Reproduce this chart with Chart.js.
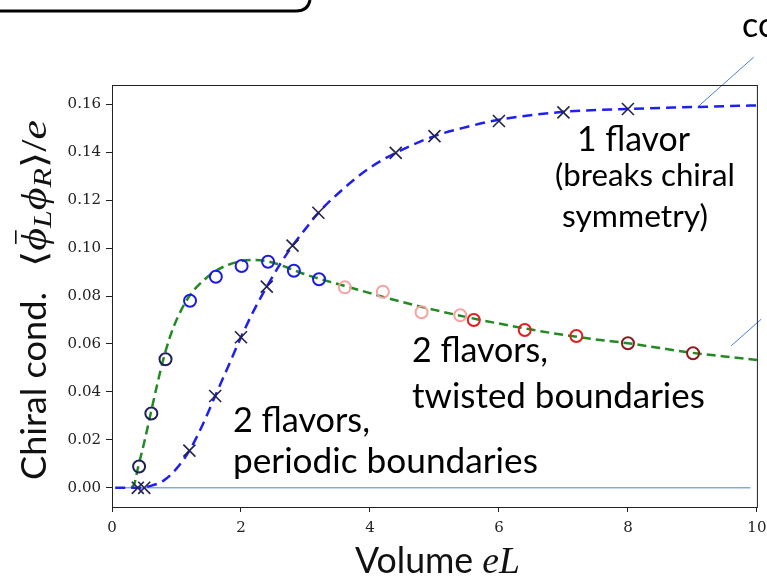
<!DOCTYPE html>
<html>
<head>
<meta charset="utf-8">
<script src="https://cdn.jsdelivr.net/npm/chart.js@4"></script>
<style>
  html, body { margin: 0; padding: 0; background: #fff; }
  canvas { display: block; }
</style>
</head>
<body>
<canvas id="chart" width="767" height="576"></canvas>
<script>
// ticks
const xTicks = [0, 2, 4, 6, 8, 10]
const yTicks = [0, 0.02, 0.04, 0.06, 0.08, 0.10, 0.12, 0.14, 0.16]

// 1 flavor, measured points (crosses)
const oneFlavorX = [0.4, 0.5, 1.2, 1.6, 2.0, 2.4, 2.8, 3.2, 4.4, 5.0, 6.0, 7.0, 8.0]
const oneFlavorY = [0, 0, 0.0155, 0.0383, 0.0628, 0.0839, 0.101, 0.1147, 0.1397, 0.1467, 0.153, 0.1566, 0.158]

// 1 flavor, fitted curve
const oneCurveX = [0.05, 0.4, 0.6, 0.8, 1.0, 1.2, 1.4, 1.6, 1.8, 2.0, 2.2, 2.4, 2.6, 2.8, 3.0, 3.2, 3.6, 4.0, 4.4, 5.0, 5.5, 6.0, 7.0, 8.0, 9.0, 10]
const oneCurveY = [0, 0, 0.0008, 0.003, 0.008, 0.0155, 0.026, 0.0383, 0.0505, 0.0628, 0.074, 0.0839, 0.093, 0.101, 0.108, 0.1147, 0.125, 0.1335, 0.1397, 0.1467, 0.1505, 0.1535, 0.1568, 0.158, 0.1588, 0.1595]

// 2 flavors, measured points (circles), split by colour group
const navyX = [0.42, 0.61, 0.83]
const navyY = [0.0089, 0.031, 0.0536]
const blueX = [1.21, 1.61, 2.01, 2.42, 2.82, 3.21]
const blueY = [0.078, 0.088, 0.0925, 0.0943, 0.0905, 0.087]
const pinkX = [3.61, 4.2, 4.8, 5.4]
const pinkY = [0.0836, 0.0818, 0.0732, 0.072]
const redX = [5.61, 6.4, 7.2]
const redY = [0.070, 0.0658, 0.0633]
const darkRedX = [8.0, 9.01]
const darkRedY = [0.0603, 0.0561]

// 2 flavors, fitted curve
const twoCurveX = [0.3, 0.35, 0.4, 0.5, 0.6, 0.7, 0.8, 0.9, 1.0, 1.2, 1.4, 1.6, 1.8, 2.0, 2.2, 2.4, 2.6, 2.8, 3.0, 3.2, 3.6, 4.0, 4.5, 5.0, 5.5, 6.0, 6.5, 7.0, 7.5, 8.0, 8.5, 9.0, 9.5, 10]
const twoCurveY = [0, 0.002, 0.008, 0.019, 0.031, 0.043, 0.054, 0.063, 0.070, 0.080, 0.086, 0.0903, 0.093, 0.0945, 0.095, 0.0945, 0.093, 0.091, 0.089, 0.0873, 0.0843, 0.0812, 0.0775, 0.0742, 0.0712, 0.0685, 0.066, 0.0638, 0.0619, 0.0603, 0.0583, 0.0563, 0.0548, 0.0533]

// slide guide lines (in data units)
const zeroLineX = [0.05, 9.9]
const zeroLineY = [0, 0]
const leaderTopX = [9.08, 9.95]
const leaderTopY = [0.1588, 0.1796]
const leaderMidX = [9.6, 10.07]
const leaderMidY = [0.0592, 0.0704]

const pts = (xs, ys) => xs.map((x, i) => ({ x, y: ys[i] }))

function markers(xs, ys, color, style) {
  const cross = style === "crossRot"
  return {
    data: pts(xs, ys), showLine: false,
    pointStyle: style, pointRadius: cross ? 8.5 : 6, pointHoverRadius: cross ? 8.5 : 6,
    pointBorderColor: color, pointBackgroundColor: "rgba(0,0,0,0)",
    pointBorderWidth: cross ? 1.6 : 2
  }
}

function curve(xs, ys, color, width, dash) {
  return {
    data: pts(xs, ys), showLine: true, pointRadius: 0,
    borderColor: color, borderWidth: width, borderDash: dash,
    cubicInterpolationMode: "monotone", clip: false
  }
}

function drawPieces(ctx, pieces, width) {
  let total = 0
  for (const p of pieces) { ctx.font = p.f; total += ctx.measureText(p.t).width }
  ctx.scale(width / total, 1)
  let x = 0
  for (const p of pieces) {
    ctx.font = p.f
    const w = ctx.measureText(p.t).width
    ctx.fillText(p.t, x, p.dy || 0)
    if (p.bar) ctx.fillRect(x + w * 0.3, -31, w * 0.6, 1.6)
    x += w
  }
}

function fitText(ctx, text, x, y, width, family) {
  ctx.font = `40px ${family}`
  const size = 40 * width / ctx.measureText(text).width
  ctx.font = `${size}px ${family}`
  ctx.fillText(text, x, y)
}

const overlay = {
  id: "overlay",
  afterDraw(chart) {
    const { ctx, chartArea: a } = chart
    ctx.save()
    // plot frame
    ctx.strokeStyle = "#222"
    ctx.lineWidth = 1
    ctx.strokeRect(a.left + 0.5, a.top + 0.5, a.right - a.left, a.bottom - a.top)

    ctx.fillStyle = "#111"
    ctx.textBaseline = "alphabetic"
    ctx.textAlign = "left"

    // x title
    ctx.save()
    ctx.translate(355, 573)
    drawPieces(ctx, [
      { t: "Volume ", f: '36px Lato' },
      { t: "eL", f: 'italic 38px "Liberation Serif"' }
    ], 165)
    ctx.restore()

    // y title, rotated
    ctx.save()
    ctx.translate(46, 480)
    ctx.rotate(-Math.PI / 2)
    ctx.save()
    drawPieces(ctx, [{ t: "Chiral cond.", f: '34px Lato' }], 188)
    ctx.restore()
    ctx.translate(213, 0)
    drawPieces(ctx, [
      { t: "\u27E8", f: '34px "DejaVu Serif"' },
      { t: "\u03D5", f: 'italic 36px "Liberation Serif"', bar: true },
      { t: "L", f: 'italic 26px "Liberation Serif"', dy: 5 },
      { t: "\u03D5", f: 'italic 36px "Liberation Serif"' },
      { t: "R", f: 'italic 26px "Liberation Serif"', dy: 5 },
      { t: "\u27E9", f: '34px "DejaVu Serif"' },
      { t: "/", f: '36px "Liberation Serif"' },
      { t: "e", f: 'italic 36px "Liberation Serif"' }
    ], 147)
    ctx.restore()

    // slide annotations
    ctx.fillStyle = "#000"
    fitText(ctx, "1 flavor", 577, 151, 113, "Lato")
    fitText(ctx, "(breaks chiral", 555, 186, 180, "Lato")
    fitText(ctx, "symmetry)", 562, 227, 146, "Lato")
    fitText(ctx, "2 flavors,", 412, 362, 136, "Lato")
    fitText(ctx, "twisted boundaries", 412, 408, 293, "Lato")
    fitText(ctx, "2 flavors,", 233, 432, 137, "Lato")
    fitText(ctx, "periodic boundaries", 233, 473, 305, "Lato")
    ctx.font = '34px Lato'
    ctx.fillText("co", 742, 37)

    // box edge at top-left
    ctx.strokeStyle = "#000"
    ctx.lineWidth = 3
    ctx.beginPath()
    ctx.moveTo(0, 11)
    ctx.lineTo(296, 11)
    ctx.quadraticCurveTo(308, 11, 310, 0)
    ctx.stroke()
    ctx.restore()
  }
}

new Chart(document.getElementById("chart"), {
  type: "scatter",
  data: {
    datasets: [
      markers(oneFlavorX, oneFlavorY, "#23234f", "crossRot"),
      markers(navyX, navyY, "#20205a", "circle"),
      markers(blueX, blueY, "#1c1ce0", "circle"),
      markers(pinkX, pinkY, "#f5a3a3", "circle"),
      markers(redX, redY, "#e41c1c", "circle"),
      markers(darkRedX, darkRedY, "#8a1c1c", "circle"),
      curve(oneCurveX, oneCurveY, "#1f1ff0", 2.5, [10, 6]),
      curve(twoCurveX, twoCurveY, "#238a23", 2.5, [9, 5]),
      curve(zeroLineX, zeroLineY, "#4a7fd4", 1, []),
      curve(leaderTopX, leaderTopY, "#4a7fd4", 1, []),
      curve(leaderMidX, leaderMidY, "#4a7fd4", 1, [])
    ]
  },
  options: {
    responsive: false,
    animation: false,
    devicePixelRatio: 1,
    layout: { padding: { top: 85, right: 5, left: 0, bottom: 0 } },
    plugins: { legend: { display: false }, tooltip: { enabled: false } },
    elements: { line: { tension: 0 } },
    scales: {
      x: {
        type: "linear", min: 0, max: 10,
        afterBuildTicks: s => { s.ticks = xTicks.map(v => ({ value: v })) },
        afterFit: s => { s.height = 69; s.paddingLeft = 0; s.paddingRight = 0 },
        ticks: { font: { family: "DejaVu Serif", size: 15 }, color: "#222", padding: 7, maxRotation: 0, callback: v => String(v) },
        grid: { display: true, drawOnChartArea: false, drawTicks: true, tickLength: 5, color: "#222" },
        border: { display: false }
      },
      y: {
        type: "linear", min: -0.008, max: 0.168,
        afterBuildTicks: s => { s.ticks = yTicks.map(v => ({ value: v })) },
        afterFit: s => { s.width = 112; s.paddingTop = 0; s.paddingBottom = 0 },
        ticks: { font: { family: "DejaVu Serif", size: 15 }, color: "#222", padding: 5, callback: v => v.toFixed(2) },
        grid: { display: true, drawOnChartArea: false, drawTicks: true, tickLength: 6, color: "#222" },
        border: { display: false }
      }
    }
  },
  plugins: [overlay]
})
</script>
</body>
</html>
